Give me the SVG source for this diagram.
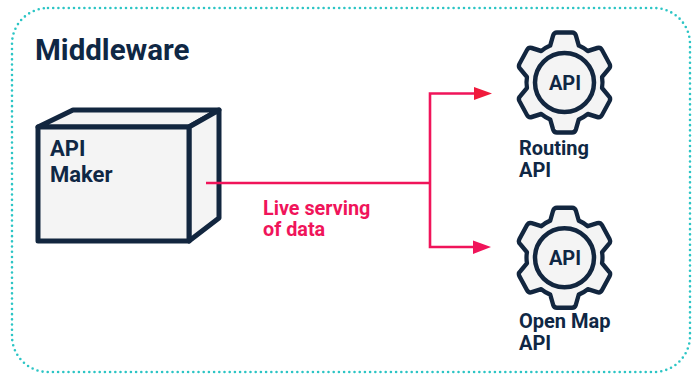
<svg xmlns="http://www.w3.org/2000/svg" width="696" height="376" viewBox="0 0 696 376">
<style>
text{font-family:Roboto,"Noto Sans","Liberation Sans",sans-serif;font-weight:700;fill:#0f2744}
.lbl{font-size:20px}
.big{font-size:22px}
.gear{fill:#f4f4f4;stroke:#12263f;stroke-width:4.5;stroke-linejoin:round}
.box{fill:#f4f4f4;stroke:#12263f;stroke-width:5;stroke-linejoin:round}
.wire{fill:none;stroke:#f0145a;stroke-width:2.6}
</style>
<defs>
<g id="gearShape">
<path class="gear" transform="scale(.95 1)" d="M-15 -37 L-12 -47 Q-11 -50 -8 -50 L8 -50 Q11 -50 12 -47 L15 -37 Q20 -35 24.5 -31.5 L34.5 -34.5 Q37.8 -35.5 39.5 -32.5 L47.5 -18.500 Q49 -15.500 46.500 -13.500 L39.500 -5.500 Q40.500 0 39.500 5.500 L46.500 13.500 Q49 15.500 47.500 18.500 L39.500 32.500 Q37.800 35.500 34.500 34.500 L24.500 31.500 Q20 35 15 37 L12 47 Q11 50 8 50 L-8 50 Q-11 50 -12 47 L-15 37 Q-20 35 -24.500 31.500 L-34.500 34.500 Q-37.800 35.500 -39.500 32.500 L-47.500 18.500 Q-49 15.500 -46.500 13.500 L-39.500 5.500 Q-40.500 0 -39.500 -5.500 L-46.500 -13.500 Q-49 -15.500 -47.500 -18.500 L-39.500 -32.500 Q-37.800 -35.500 -34.500 -34.500 L-24.500 -31.500 Q-20 -35 -15 -37 Z"/>
<circle class="gear" r="29.500"/>
</g>
</defs>
<rect id="frame" x="12" y="8" width="678" height="364" rx="36" fill="#fff" stroke="#2cc5c5" stroke-width="2.600" stroke-linecap="round" stroke-dasharray="0 5.200"/>
<text id="title" x="35" y="60" font-size="29.500">Middleware</text>
<g id="api-maker">
<path class="box" d="M38 127 L73 110 L219 110 L189 127 Z"/>
<path class="box" d="M189 127 L219 110 L219 218 L189 241 Z"/>
<rect class="box" x="38" y="127" width="151" height="114"/>
<text class="big" x="50" y="156">API</text>
<text class="big" x="50" y="182">Maker</text>
</g>
<g id="connectors">
<path class="wire" d="M206 183 H430"/>
<path class="wire" d="M476 93.500 H430 V247 H474"/>
<path d="M474 87 L492 93.500 L474 100 Z" fill="#f01a3c"/>
<path d="M473 240.500 L491 247 L473 254 Z" fill="#f0145a"/>
</g>
<g id="edge-label">
<text x="263" y="215" font-size="19.800" style="fill:#f0145a">Live serving</text>
<text x="263" y="236" font-size="19.800" style="fill:#f0145a">of data</text>
</g>
<g id="routing-api">
<use href="#gearShape" x="564.500" y="82.500"/>
<text x="565" y="90" font-size="20" text-anchor="middle">API</text>
<text class="lbl" x="519" y="155">Routing</text>
<text class="lbl" x="519" y="177">API</text>
</g>
<g id="open-map-api">
<use href="#gearShape" x="564.500" y="257.700"/>
<text x="565" y="265" font-size="20" text-anchor="middle">API</text>
<text class="lbl" x="519" y="328">Open Map</text>
<text class="lbl" x="519" y="350">API</text>
</g>
</svg>
